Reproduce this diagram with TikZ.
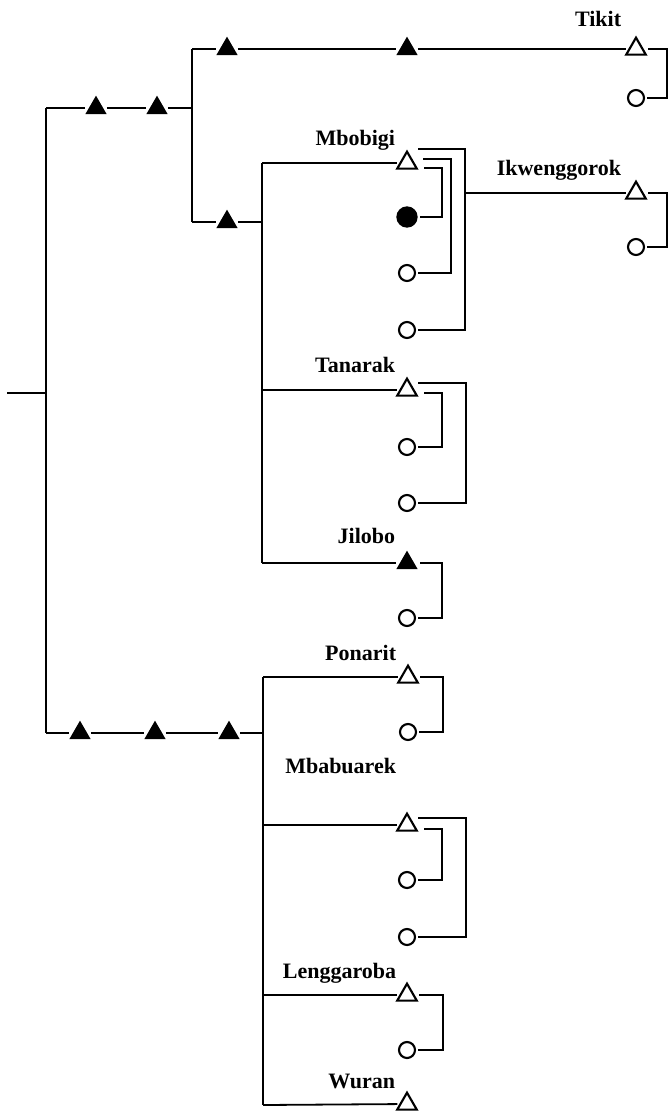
\documentclass[tikz,border=0pt]{standalone}
\usepackage{fontspec}
\setmainfont{Liberation Serif}
\usetikzlibrary{shapes.geometric}
\begin{document}
\begin{tikzpicture}[x=0.75pt,y=-0.75pt, line width=1.35pt,
 ft/.style={regular polygon, regular polygon sides=3, minimum size=18.5pt, inner sep=0pt, outer sep=2.5pt, fill=black},
 ot/.style={regular polygon, regular polygon sides=3, minimum size=17pt, inner sep=0pt, outer sep=2pt, draw, line width=1.6pt},
 oc/.style={circle, minimum size=12pt, inner sep=0pt, outer sep=2pt, draw, line width=1.6pt},
 fc/.style={circle, minimum size=16pt, inner sep=0pt, outer sep=2pt, fill=black},
 lab/.style={anchor=base east, inner sep=0pt, font=\fontsize{16.5}{18}\selectfont\bfseries}]
\useasboundingbox (0,0) rectangle (669,1113);
% root
\coordinate (r0) at (7,393);
\coordinate (r1) at (46,393);
\coordinate (aT) at (46,108);
\coordinate (aB) at (46,733);
\draw (r0) -- (r1);
\draw (aT) -- (aB);
% upper branch
\node[ft] (u1) at (96,108) {};
\node[ft] (u2) at (157,108) {};
\coordinate (bM) at (192,108);
\draw (aT) -- (u1) -- (u2) -- (bM);
\coordinate (bT) at (192,49);
\coordinate (bB) at (192,222);
\draw (bT) -- (bB);
% Tikit
\node[ft] (u3) at (227,49) {};
\node[ft] (u4) at (407,49) {};
\node[ot] (tik) at (636,49) {};
\node[oc] (tikc) at (636,98) {};
\node[lab] at (622,27) {Tikit};
\draw (bT) -- (u3) -- (u4) -- (tik);
\draw ([shift={(12,0)}]tik.center) -- ++(19,0) |- (tikc);
% lower part of upper branch
\node[ft] (u5) at (227,222) {};
\coordinate (cM) at (262,222);
\draw (bB) -- (u5) -- (cM);
\coordinate (cT) at (262,163);
\coordinate (cB) at (262,563);
\draw (cT) -- (cB);
% Mbobigi
\node[ot] (mbo) at (407,163) {};
\node[fc] (mbo1) at (407,217) {};
\node[oc] (mbo2) at (407,273) {};
\node[oc] (mbo3) at (407,330) {};
\node[lab] at (396,145) {Mbobigi};
\draw (cT) -- (mbo);
\draw ([shift={(11,-14)}]mbo.center) -- ++(47,0) |- (mbo3);
\draw ([shift={(16,-4)}]mbo.center) -- ++(28,0) |- (mbo2);
\draw ([shift={(17,5)}]mbo.center) -- ++(18,0) |- (mbo1);
% Ikwenggorok
\coordinate (ikL) at (465,193);
\node[ot] (ikw) at (636,193) {};
\node[oc] (ikwc) at (636,247) {};
\node[lab] at (622,175) {Ikwenggorok};
\draw (ikL) -- (ikw);
\draw ([shift={(12,0)}]ikw.center) -- ++(19,0) |- (ikwc);
% Tanarak
\coordinate (cTa) at (262,390);
\node[ot] (tan) at (407,390) {};
\node[oc] (tan1) at (407,447) {};
\node[oc] (tan2) at (407,503) {};
\node[lab] at (396,372) {Tanarak};
\draw (cTa) -- (tan);
\draw ([shift={(11,-7)}]tan.center) -- ++(48,0) |- (tan2);
\draw ([shift={(17,3)}]tan.center) -- ++(18,0) |- (tan1);
% Jilobo
\node[ft] (jil) at (407,563) {};
\node[oc] (jil1) at (407,618) {};
\node[lab] at (396,543) {Jilobo};
\draw (cB) -- (jil);
\draw ([shift={(13,0)}]jil.center) -- ++(22,0) |- (jil1);
% lower branch
\node[ft] (l1) at (80,733) {};
\node[ft] (l2) at (155,733) {};
\node[ft] (l3) at (229,733) {};
\coordinate (dM) at (263,733);
\draw (aB) -- (l1) -- (l2) -- (l3) -- (dM);
\coordinate (dT) at (263,677);
\coordinate (dB) at (263,1105);
\draw (dT) -- (dB);
% Ponarit
\node[ot] (pon) at (408,677) {};
\node[oc] (pon1) at (408,732) {};
\node[lab] at (397,660) {Ponarit};
\draw (dT) -- (pon);
\draw ([shift={(12,0)}]pon.center) -- ++(23,0) |- (pon1);
% Mbabuarek
\coordinate (dMb) at (263,825);
\node[ot] (mba) at (407,825) {};
\node[oc] (mba1) at (407,880) {};
\node[oc] (mba2) at (407,937) {};
\node[lab] at (397,773) {Mbabuarek};
\draw (dMb) -- (mba);
\draw ([shift={(11,-7)}]mba.center) -- ++(48,0) |- (mba2);
\draw ([shift={(17,4)}]mba.center) -- ++(18,0) |- (mba1);
% Lenggaroba
\coordinate (dL) at (263,995);
\node[ot] (len) at (407,995) {};
\node[oc] (len1) at (407,1050) {};
\node[lab] at (397,978) {Lenggaroba};
\draw (dL) -- (len);
\draw ([shift={(12,0)}]len.center) -- ++(24,0) |- (len1);
% Wuran
\node[ot] (wur) at (407,1104) {};
\node[lab] at (396,1088) {Wuran};
\draw (dB) -- (wur);
\end{tikzpicture}
\end{document}
